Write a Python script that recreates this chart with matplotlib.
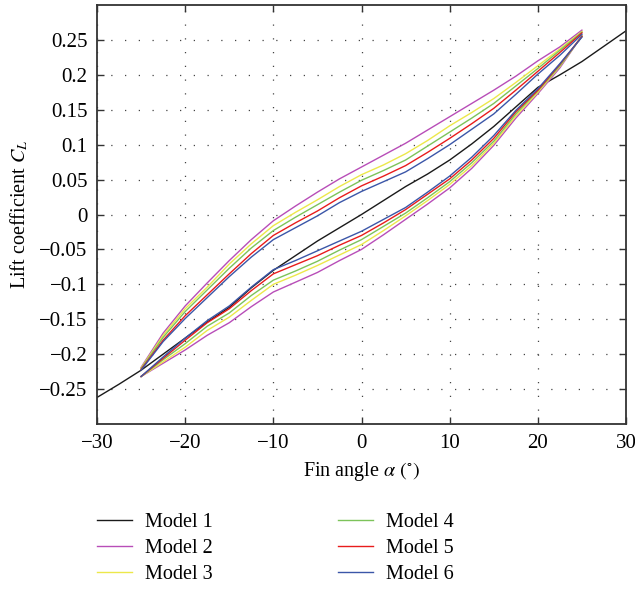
import matplotlib
matplotlib.use("Agg")
import matplotlib.pyplot as plt
from matplotlib.ticker import FuncFormatter

plt.rcParams['font.family'] = ['Liberation Serif', 'DejaVu Serif']
plt.rcParams['mathtext.fontset'] = 'stix'

# Model 1: single curve, -30..30 deg
angle_m1 = [-30, -27.5, -25, -22.5, -20, -17.5, -15, -12.5, -10, -7.5, -5, -2.5, 0,
            2.5, 5, 7.5, 10, 12.5, 15, 17.5, 20, 22.5, 25, 27.5, 30]
cl_m1 = [-0.262, -0.243, -0.223, -0.200, -0.177, -0.154, -0.133, -0.105, -0.080,
         -0.059, -0.038, -0.019, 0.000, 0.020, 0.040, 0.058, 0.078, 0.101, 0.126,
         0.154, 0.182, 0.200, 0.219, 0.241, 0.263]

# Models 2-6: hysteresis loops, -25..25 deg
angle_loop = [-25, -22.5, -20, -17.5, -15, -12.5, -10, -7.5, -5, -2.5, 0,
              2.5, 5, 7.5, 10, 12.5, 15, 17.5, 20, 22.5, 25]

upper_m2 = [-0.219, -0.170, -0.131, -0.098, -0.066, -0.036, -0.009, 0.012, 0.032, 0.051, 0.068,
            0.085, 0.102, 0.121, 0.140, 0.159, 0.178, 0.198, 0.220, 0.240, 0.264]
upper_m3 = [-0.220, -0.173, -0.135, -0.104, -0.071, -0.042, -0.016, 0.003, 0.021, 0.040, 0.057,
            0.071, 0.087, 0.106, 0.127, 0.146, 0.166, 0.189, 0.213, 0.237, 0.262]
upper_m4 = [-0.221, -0.176, -0.139, -0.108, -0.077, -0.048, -0.023, -0.004, 0.014, 0.032, 0.049,
            0.063, 0.078, 0.098, 0.118, 0.138, 0.159, 0.184, 0.209, 0.235, 0.261]
upper_m5 = [-0.222, -0.180, -0.145, -0.115, -0.085, -0.056, -0.030, -0.012, 0.005, 0.024, 0.041,
            0.055, 0.070, 0.089, 0.109, 0.130, 0.152, 0.178, 0.205, 0.232, 0.260]
upper_m6 = [-0.223, -0.182, -0.149, -0.119, -0.089, -0.061, -0.036, -0.019, -0.002, 0.017, 0.033,
            0.047, 0.061, 0.080, 0.100, 0.122, 0.144, 0.172, 0.201, 0.228, 0.258]

lower_m2 = [-0.232, -0.213, -0.194, -0.173, -0.155, -0.132, -0.111, -0.097, -0.083, -0.066, -0.050,
            -0.029, -0.007, 0.015, 0.038, 0.066, 0.099, 0.138, 0.173, 0.210, 0.256]
lower_m3 = [-0.232, -0.211, -0.190, -0.166, -0.147, -0.123, -0.100, -0.087, -0.073, -0.058, -0.043,
            -0.023, -0.002, 0.020, 0.043, 0.070, 0.102, 0.141, 0.175, 0.212, 0.256]
lower_m4 = [-0.232, -0.208, -0.185, -0.160, -0.141, -0.116, -0.094, -0.081, -0.067, -0.051, -0.036,
            -0.017, 0.002, 0.024, 0.047, 0.074, 0.105, 0.144, 0.177, 0.213, 0.255]
lower_m5 = [-0.232, -0.206, -0.180, -0.155, -0.135, -0.109, -0.085, -0.072, -0.059, -0.044, -0.030,
            -0.012, 0.007, 0.029, 0.051, 0.078, 0.109, 0.147, 0.178, 0.215, 0.255]
lower_m6 = [-0.232, -0.204, -0.177, -0.152, -0.131, -0.104, -0.079, -0.066, -0.052, -0.038, -0.024,
            -0.007, 0.010, 0.032, 0.055, 0.082, 0.113, 0.149, 0.180, 0.216, 0.254]

labels = ["Model 1", "Model 2", "Model 3", "Model 4", "Model 5", "Model 6"]
colors = ["#1a1a1a", "#b84db8", "#ece84a", "#7cc35a", "#e81c1c", "#3b56a8"]

x_ticks = [-30, -20, -10, 0, 10, 20, 30]
y_ticks = [-0.25, -0.2, -0.15, -0.1, -0.05, 0, 0.05, 0.1, 0.15, 0.2, 0.25]

fig = plt.figure(figsize=(6.35, 5.91), dpi=100)
ax = fig.add_axes([97/635, 1-424/591, (626-97)/635, (424-5)/591])

handles = []
h, = ax.plot(angle_m1, cl_m1, color=colors[0], lw=1.0, label=labels[0])
handles.append(h)
uppers = [upper_m2, upper_m3, upper_m4, upper_m5, upper_m6]
lowers = [lower_m2, lower_m3, lower_m4, lower_m5, lower_m6]
for i, (up, lo) in enumerate(zip(uppers, lowers)):
    c = colors[i + 1]
    h, = ax.plot(angle_loop, up, color=c, lw=1.0, label=labels[i + 1])
    ax.plot(angle_loop, lo, color=c, lw=1.0)
    handles.append(h)

ax.set_xlim(-30, 30)
ax.set_ylim(-0.3, 0.3)
ax.set_xticks(x_ticks)
ax.set_yticks(y_ticks)

def fmt(v, pos):
    s = f"{v:g}"
    if s == "-0":
        s = "0"
    return s.replace("-", "\u2212")

ax.xaxis.set_major_formatter(FuncFormatter(fmt))
ax.yaxis.set_major_formatter(FuncFormatter(fmt))
ax.tick_params(direction='in', top=True, right=True, length=5, width=1,
               color='#333333', labelsize=15, pad=7)
ax.grid(True, color='#444444', linestyle=(0, (1, 10)), linewidth=0.9)
for sp in ax.spines.values():
    sp.set_color('#333333')
    sp.set_linewidth(1.3)

ax.set_xlabel(r"Fin angle $\alpha$ $(^{\circ})$", fontsize=14.5, labelpad=5)
ax.set_ylabel(r"Lift coefficient $C_L$", fontsize=14.5, labelpad=6)

fig.legend(handles=handles, labels=labels, loc='upper left', ncol=2,
           bbox_to_anchor=(97/635, 1-513/591), frameon=False, fontsize=14.5,
           borderpad=0, borderaxespad=0, handlelength=1.74, handletextpad=0.65,
           labelspacing=0.35, columnspacing=6.2)

fig.savefig("out.png", dpi=100)
